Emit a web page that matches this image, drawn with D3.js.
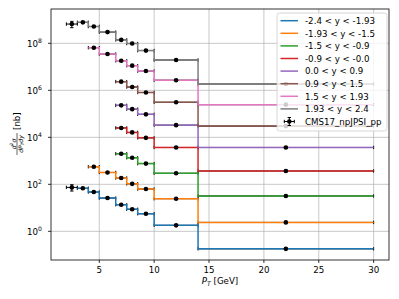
<!DOCTYPE html>
<html>
<head>
<meta charset="utf-8">
<script src="https://cdn.jsdelivr.net/npm/d3@7"></script>
<style>
  body { margin: 0; background: #fff; }
  svg { display: block; font-family: "DejaVu Sans", sans-serif; }
</style>
</head>
<body>
<div id="chart"></div>
<script>
// rapidity bins (legend order)
var rapBins = ["-2.4 < y < -1.93", "-1.93 < y < -1.5", "-1.5 < y < -0.9", "-0.9 < y < -0.0",
               "0.0 < y < 0.9", "0.9 < y < 1.5", "1.5 < y < 1.93", "1.93 < y < 2.4"];

// pT bin edges [GeV]
var edgesFwd = [2, 3, 4, 5, 6.5, 7.5, 8.5, 10, 14, 30];
var edgesMid = [4, 5, 6.5, 7.5, 8.5, 10, 14, 30];
var edgesCen = [6.5, 7.5, 8.5, 10, 14, 30];

// d2sigma/dpT dy [nb], one array per rapidity bin
var xsM240 = [74, 68, 47, 26, 13.5, 8.7, 5.6, 1.8, 0.18];
var xsM193 = [560, 320, 186, 105, 63, 24.5, 2.4];
var xsM150 = [2000, 1350, 760, 295, 32];
var xsM090 = [25100, 16200, 9500, 3700, 370];
var xsP000 = [229000, 158000, 95000, 33000, 3700];
var xsP090 = [2.34e6, 1.38e6, 8.1e5, 3.1e5, 3.0e4];
var xsP150 = [6.5e7, 3.5e7, 1.8e7, 1.12e7, 6.6e6, 2.7e6, 2.45e5];
var xsP193 = [6.6e8, 7.8e8, 5.2e8, 3.0e8, 1.4e8, 9.8e7, 4.9e7, 1.95e7, 1.86e6];

// relative uncertainties
var errFwd = [0.3, 0.08, 0.06, 0.06, 0.06, 0.06, 0.06, 0.06, 0.08];
var errMid = [0.08, 0.06, 0.06, 0.06, 0.06, 0.06, 0.08];
var errCen = [0.06, 0.06, 0.06, 0.06, 0.08];

// first bin that has a histogram step (2-3 GeV bin is data only)
var stepFrom = [1, 0, 0, 0, 0, 0, 0, 1];

var yTicks = [1e0, 1e2, 1e4, 1e6, 1e8];
var xTicks = [5, 10, 15, 20, 25, 30];

var colors = ["#1f77b4", "#ff7f0e", "#2ca02c", "#d62728", "#9467bd", "#8c564b", "#e377c2", "#7f7f7f"];

var series = [
  {edges: edgesFwd, vals: xsM240, err: errFwd},
  {edges: edgesMid, vals: xsM193, err: errMid},
  {edges: edgesCen, vals: xsM150, err: errCen},
  {edges: edgesCen, vals: xsM090, err: errCen},
  {edges: edgesCen, vals: xsP000, err: errCen},
  {edges: edgesCen, vals: xsP090, err: errCen},
  {edges: edgesMid, vals: xsP150, err: errMid},
  {edges: edgesFwd, vals: xsP193, err: errFwd}
];

var W = 399, H = 299;
var plot = {left: 51, right: 389, top: 9, bottom: 260};

var svg = d3.select("#chart").append("svg").attr("width", W).attr("height", H);

var x = d3.scaleLinear().domain([0.6, 31.4]).range([plot.left, plot.right]);
var y = d3.scaleLog().domain([Math.pow(10, -1.22), Math.pow(10, 9.46)]).range([plot.bottom, plot.top]);

svg.append("clipPath").attr("id", "clip").append("rect")
  .attr("x", plot.left).attr("y", plot.top)
  .attr("width", plot.right - plot.left).attr("height", plot.bottom - plot.top);

// grid
var grid = svg.append("g").attr("stroke", "#b0b0b0").attr("stroke-width", 0.7);
grid.selectAll(".gx").data(xTicks).enter().append("line")
  .attr("x1", function(d){ return x(d); }).attr("x2", function(d){ return x(d); })
  .attr("y1", plot.top).attr("y2", plot.bottom);
grid.selectAll(".gy").data(yTicks).enter().append("line")
  .attr("y1", function(d){ return y(d); }).attr("y2", function(d){ return y(d); })
  .attr("x1", plot.left).attr("x2", plot.right);

var g = svg.append("g").attr("clip-path", "url(#clip)");

// error bars
var cap = 1.7;
series.forEach(function(s) {
  s.vals.forEach(function(v, i) {
    var x0 = x(s.edges[i]), x1 = x(s.edges[i + 1]);
    var xc = x((s.edges[i] + s.edges[i + 1]) / 2);
    var yc = y(v), yh = y(v * (1 + s.err[i])), yl = y(v * (1 - s.err[i]));
    var eb = g.append("g").attr("stroke", "#000").attr("stroke-width", 1);
    eb.append("line").attr("x1", x0).attr("x2", x1).attr("y1", yc).attr("y2", yc);
    eb.append("line").attr("x1", x0).attr("x2", x0).attr("y1", yc - cap).attr("y2", yc + cap);
    eb.append("line").attr("x1", x1).attr("x2", x1).attr("y1", yc - cap).attr("y2", yc + cap);
    eb.append("line").attr("x1", xc).attr("x2", xc).attr("y1", yh).attr("y2", yl);
    eb.append("line").attr("x1", xc - cap).attr("x2", xc + cap).attr("y1", yh).attr("y2", yh);
    eb.append("line").attr("x1", xc - cap).attr("x2", xc + cap).attr("y1", yl).attr("y2", yl);
  });
});

// histogram steps
var stepLine = d3.line()
  .x(function(d){ return x(d[0]); })
  .y(function(d){ return y(d[1]); })
  .curve(d3.curveStepAfter);

series.forEach(function(s, k) {
  var pts = [];
  for (var i = stepFrom[k]; i < s.vals.length; i++) pts.push([s.edges[i], s.vals[i]]);
  pts.push([s.edges[s.vals.length], s.vals[s.vals.length - 1]]);
  g.append("path").attr("d", stepLine(pts))
    .attr("fill", "none").attr("stroke", colors[k]).attr("stroke-width", 1.5);
});

// markers
series.forEach(function(s) {
  g.selectAll(null).data(s.vals).enter().append("circle")
    .attr("cx", function(d, i){ return x((s.edges[i] + s.edges[i + 1]) / 2); })
    .attr("cy", function(d){ return y(d); })
    .attr("r", 2.3).attr("fill", "#000");
});

// axes frame
svg.append("rect").attr("x", plot.left).attr("y", plot.top)
  .attr("width", plot.right - plot.left).attr("height", plot.bottom - plot.top)
  .attr("fill", "none").attr("stroke", "#000").attr("stroke-width", 0.8);

var fs = 8.66;

// x ticks
var xt = svg.append("g");
xTicks.forEach(function(t) {
  xt.append("line").attr("x1", x(t)).attr("x2", x(t)).attr("y1", plot.bottom).attr("y2", plot.bottom + 3)
    .attr("stroke", "#000").attr("stroke-width", 0.8);
  xt.append("text").attr("x", x(t)).attr("y", 273).attr("text-anchor", "middle")
    .attr("font-size", fs).attr("fill", "#000").text(t);
});

// y ticks
var yt = svg.append("g");
yTicks.forEach(function(t) {
  var e = Math.round(Math.log10(t));
  yt.append("line").attr("x1", plot.left - 3).attr("x2", plot.left).attr("y1", y(t)).attr("y2", y(t))
    .attr("stroke", "#000").attr("stroke-width", 0.8);
  var tx = yt.append("text").attr("x", 42).attr("y", y(t) + 3.3).attr("text-anchor", "end")
    .attr("font-size", fs).attr("fill", "#000");
  tx.append("tspan").text("10");
  tx.append("tspan").attr("dy", -3.6).attr("font-size", 6.1).text(e);
});

// x label
var xl = svg.append("text").attr("x", (plot.left + plot.right) / 2).attr("y", 284)
  .attr("text-anchor", "middle").attr("font-size", fs).attr("fill", "#000");
xl.append("tspan").attr("font-style", "italic").text("P");
xl.append("tspan").attr("dy", 1.8).attr("font-size", 6.1).attr("font-style", "italic").text("T");
xl.append("tspan").attr("dy", -1.8).text(" [GeV]");

// y label (fraction + unit), rotated
var yl = svg.append("g").attr("transform", "translate(20,136) rotate(-90)").attr("fill", "#000");
yl.append("line").attr("x1", -19).attr("x2", 3).attr("y1", -3).attr("y2", -3)
  .attr("stroke", "#000").attr("stroke-width", 0.6);
var num = yl.append("text").attr("x", -8).attr("y", -4.5).attr("text-anchor", "middle").attr("font-size", 6.1);
num.append("tspan").attr("font-style", "italic").text("d");
num.append("tspan").attr("dy", -2.2).attr("font-size", 4.4).text("2");
num.append("tspan").attr("dy", 2.2).attr("font-style", "italic").text("σ");
var den = yl.append("text").attr("x", -8).attr("y", 2.5).attr("text-anchor", "middle").attr("font-size", 6.1);
den.append("tspan").attr("font-style", "italic").text("dP");
den.append("tspan").attr("dy", 1.2).attr("font-size", 4.4).attr("font-style", "italic").text("T");
den.append("tspan").attr("dy", -1.2).attr("font-style", "italic").text("dy");
yl.append("text").attr("x", 6).attr("y", 0).attr("font-size", fs).text("[nb]");

// legend
var leg = svg.append("g");
leg.append("rect").attr("x", 277).attr("y", 13).attr("width", 110).attr("height", 118).attr("rx", 2.5)
  .attr("fill", "#fff").attr("fill-opacity", 0.8).attr("stroke", "#cccccc").attr("stroke-width", 0.8);
var rowY = function(i){ return 20.7 + i * 12.6; };
rapBins.forEach(function(lab, i) {
  leg.append("line").attr("x1", 280.5).attr("x2", 298).attr("y1", rowY(i)).attr("y2", rowY(i))
    .attr("stroke", colors[i]).attr("stroke-width", 1.5);
  leg.append("text").attr("x", 305).attr("y", rowY(i) + 3.2).attr("font-size", fs).attr("fill", "#000").text(lab);
});
var cy = rowY(8), cx = 289.3;
var lh = leg.append("g").attr("stroke", "#000").attr("stroke-width", 1);
lh.append("line").attr("x1", cx - 5).attr("x2", cx + 5).attr("y1", cy).attr("y2", cy);
lh.append("line").attr("x1", cx - 5).attr("x2", cx - 5).attr("y1", cy - cap).attr("y2", cy + cap);
lh.append("line").attr("x1", cx + 5).attr("x2", cx + 5).attr("y1", cy - cap).attr("y2", cy + cap);
lh.append("line").attr("x1", cx).attr("x2", cx).attr("y1", cy - 4).attr("y2", cy + 4);
lh.append("line").attr("x1", cx - cap).attr("x2", cx + cap).attr("y1", cy - 4).attr("y2", cy - 4);
lh.append("line").attr("x1", cx - cap).attr("x2", cx + cap).attr("y1", cy + 4).attr("y2", cy + 4);
leg.append("circle").attr("cx", cx).attr("cy", cy).attr("r", 2.3).attr("fill", "#000");
leg.append("text").attr("x", 305).attr("y", cy + 3.2).attr("font-size", fs).attr("fill", "#000").text("CMS17_npJPSI_pp");
</script>
</body>
</html>
